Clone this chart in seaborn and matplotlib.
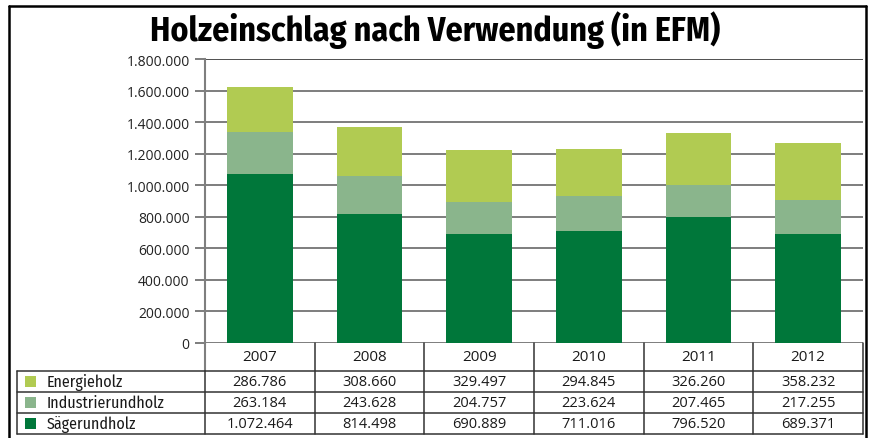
import numpy as np
import pandas as pd
import matplotlib
matplotlib.use("Agg")
import matplotlib.pyplot as plt
import seaborn as sns
import matplotlib.transforms as mtrans
from matplotlib.lines import Line2D
from matplotlib.patches import Rectangle
from matplotlib.ticker import FixedLocator, FuncFormatter

# ---- data ----
years = ["2007", "2008", "2009", "2010", "2011", "2012"]
energieholz = [286786, 308660, 329497, 294845, 326260, 358232]
industrierundholz = [263184, 243628, 204757, 223624, 207465, 217255]
saegerundholz = [1072464, 814498, 690889, 711016, 796520, 689371]
series_labels = ["Energieholz", "Industrierundholz", "Sägerundholz"]
title = "Holzeinschlag nach Verwendung (in EFM)"
y_ticks = [0, 200000, 400000, 600000, 800000, 1000000, 1200000, 1400000, 1600000, 1800000]

col_saeger = "#00773A"
col_indu = "#8AB58C"
col_energie = "#B1CB52"

def de(v):
    return f"{v:,}".replace(",", ".")

sns.set_theme(style="white")
plt.rcParams['font.family'] = ['Open Sans', 'DejaVu Sans']

W, H = 871, 439
fig = plt.figure(figsize=(W / 100, H / 100), dpi=100)

def fx(px):
    return px / W

def fy(py):
    return 1 - py / H

ax_left, ax_right, ax_top, ax_bot = 205, 863, 60, 344
ax = fig.add_axes([fx(ax_left), fy(ax_bot), fx(ax_right - ax_left), (ax_bot - ax_top) / H])

df = pd.DataFrame({"Jahr": years, "Saeger": saegerundholz,
                   "Indu": industrierundholz, "Energie": energieholz})
bottom2 = np.array(saegerundholz)
bottom3 = bottom2 + np.array(industrierundholz)

sns.barplot(data=df, x="Jahr", y="Saeger", color=col_saeger, saturation=1,
            width=0.6, ax=ax, linewidth=0)
sns.barplot(data=df, x="Jahr", y="Indu", color=col_indu, saturation=1,
            width=0.6, ax=ax, bottom=bottom2, linewidth=0)
sns.barplot(data=df, x="Jahr", y="Energie", color=col_energie, saturation=1,
            width=0.6, ax=ax, bottom=bottom3, linewidth=0)

ax.set_xlim(-0.5, len(years) - 0.5)
ax.set_ylim(0, 1800000)
ax.yaxis.set_major_locator(FixedLocator(y_ticks))
ax.yaxis.set_major_formatter(FuncFormatter(lambda v, p: de(int(v))))
ax.set_xticks([])
ax.set_xlabel("")
ax.set_ylabel("")
for s in ["top", "right", "bottom"]:
    ax.spines[s].set_visible(False)
ax.spines["left"].set_color("#7f7f7f")
ax.spines["left"].set_linewidth(1.5)
ax.grid(False)
for t in y_ticks:
    ax.axhline(t, color="#202020" if t == 1800000 else "#5a5a5a", lw=1.1, zorder=0)
ax.tick_params(axis="y", which="major", length=7, width=1.1, color="#5a5a5a",
               labelsize=10, labelcolor="#222222", pad=4, left=True)
ax.set_axisbelow(True)

# ---- title ----
fig.text(0.5, fy(30), title, ha="center", va="center",
         family=["Fira Sans Condensed", "DejaVu Sans"], fontweight="bold",
         fontsize=24.4, color="black")

# ---- outer frame ----
for (x0, y0, x1, y1) in [(9, 7, 9, H + 5), (9, 7, 866, 7), (866, 7, 866, H + 5)]:
    fig.add_artist(Line2D([fx(x0), fx(x1)], [fy(y0), fy(y1)], transform=fig.transFigure,
                          color="black", lw=1.8))

# ---- data table ----
blend = mtrans.blended_transform_factory(ax.transData, fig.transFigure)
row_lines = [372, 393, 414, 435]
lfont = ["Fira Sans Condensed", "DejaVu Sans"]
nfont = ["Open Sans", "DejaVu Sans"]

fig.add_artist(Line2D([-0.5, -0.5], [fy(344), fy(372)], transform=blend,
                      color="#7f7f7f", lw=1.5))
for i in range(1, len(years) + 1):
    xb = i - 0.5
    fig.add_artist(Line2D([xb, xb], [fy(344), fy(435)], transform=blend,
                          color="#333333", lw=1.1))
fig.add_artist(Line2D([-0.5, -0.5], [fy(372), fy(435)], transform=blend,
                      color="#333333", lw=1.1))
x_right_fig = ax.transData.transform((len(years) - 0.5, 0))[0] / W
for ry in row_lines:
    fig.add_artist(Line2D([fx(17), x_right_fig], [fy(ry), fy(ry)], transform=fig.transFigure,
                          color="#333333", lw=1.1))
fig.add_artist(Line2D([fx(17), fx(17)], [fy(372), fy(435)], transform=fig.transFigure,
                      color="#333333", lw=1.1))

for i, yr in enumerate(years):
    fig.text(i, fy(358), yr, transform=blend, ha="center", va="center",
             family=nfont, fontsize=11, color="#1a1a1a")

rows = [(series_labels[0], energieholz, col_energie),
        (series_labels[1], industrierundholz, col_indu),
        (series_labels[2], saegerundholz, col_saeger)]
for r, (lab, vals, col) in enumerate(rows):
    top = row_lines[r]
    bot = row_lines[r + 1]
    cy = (top + bot) / 2
    fig.add_artist(Rectangle((fx(25), fy(cy + 5.5)), fx(11), 11 / H,
                             transform=fig.transFigure, facecolor=col, edgecolor="none"))
    fig.text(fx(47), fy(cy), lab, ha="left", va="center", family=lfont,
             fontsize=11.5, color="#1a1a1a")
    for i, v in enumerate(vals):
        fig.text(i, fy(cy), de(v), transform=blend, ha="center", va="center",
                 family=nfont, fontsize=10.5, color="#1a1a1a")

fig.savefig("out.png", dpi=100, facecolor="white")
